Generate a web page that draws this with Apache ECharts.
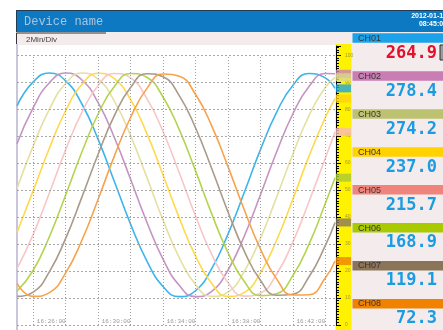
<!DOCTYPE html>
<html><head><meta charset="utf-8">
<script src="https://cdn.jsdelivr.net/npm/echarts@6/dist/echarts.min.js"></script>
<style>html,body{margin:0;padding:0;background:#fff}#c{width:443px;height:330px}</style>
</head><body><div id="c"></div>
<script>
// minutes after 16:00
const minutes = [23,24,25,26,27,28,29,30,31,32,33,34,35,36,37,38,39,40,41,42,42.6];
const timeTicks = [26,30,34,38,42];
const gridMinutes = [24,26,28,30,32,34,36,38,40,42];
const gridValues = [0,10,20,30,40,50,60,70,80,90,100];
const channelNames = ['CH01','CH02','CH03','CH04','CH05','CH06','CH07','CH08'];
const currentValues = ['264.9','278.4','274.2','237.0','215.7','168.9','119.1','72.3'];
const ch01 = [81.2,90.1,93.4,90.5,81.9,68.8,53.2,37.4,23.8,14.3,10.5,12.7,20.9,33.6,49.0,64.9,78.8,88.8,93.2,91.6,87.7];
const ch02 = [67.2,80.6,89.8,93.4,90.8,82.4,69.5,54.0,38.2,24.4,14.7,10.5,12.5,20.3,32.8,48.2,64.1,78.2,88.4,93.2,93.1];
const ch03 = [50.6,66.4,80.0,89.5,93.4,91.1,83.0,70.2,54.8,38.9,25.0,15.0,10.6,12.2,19.8,32.1,47.4,63.3,77.6,88.0,91.8];
const ch04 = [34.3,49.8,65.6,79.4,89.1,93.3,91.3,83.5,71.0,55.6,39.7,25.6,15.4,10.6,12.0,19.3,31.4,46.6,62.6,76.9,83.9];
const ch05 = [20.9,33.6,49.0,64.9,78.8,88.8,93.2,91.6,84.0,71.7,56.4,40.5,26.2,15.8,10.7,11.8,18.8,30.7,45.8,61.8,71.5];
const ch06 = [12.5,20.3,32.8,48.2,64.1,78.2,88.4,93.2,91.8,84.5,72.4,57.2,41.2,26.9,16.2,10.9,11.6,18.3,30.0,45.0,54.6];
const ch07 = [10.6,12.2,19.8,32.1,47.4,63.3,77.6,88.0,93.1,92.0,85.0,73.1,58.0,42.0,27.5,16.6,11.0,11.4,17.9,29.4,38.0];
const ch08 = [15.4,10.6,12.0,19.3,31.4,46.6,62.6,76.9,87.6,93.0,92.2,85.5,73.8,58.8,42.8,28.2,17.1,11.1,11.2,17.4,23.7];
const channelData = [ch01,ch02,ch03,ch04,ch05,ch06,ch07,ch08];
const lineColors = ['#3db5ec','#c594c2','#e5e0a2','#ffd94c','#f8c6c6','#b5d44e','#a99a8a','#f8a24c'];
const headerColors = ['#1ca2e8','#c97db5','#bcc270','#ffd200','#f0847c','#a9c900','#8a7558','#f08200'];
const markerColors = ['#1ca2e8','#c584b6','#d9d78c','#ffcf10','#f7b9b9','#a7c832','#8a7660','#f08200'];

const chart = echarts.init(document.getElementById('c'), null, {renderer:'canvas'});

const series = [];
series.push({
  type:'line', xAxisIndex:0, yAxisIndex:0, data:[], silent:true, z:1,
  markLine:{ silent:true, symbol:'none', animation:false, label:{show:false},
    data: gridValues.map(v => ({yAxis:v, lineStyle:{color:'#a8a8a8', type:[2,2], width:1}}))
      .concat(gridMinutes.map(m => [{coord:[m,0]},{coord:[m,100]}]).map(p => { p[0].lineStyle={color:'#a0a0a0',type:[1,2],width:1}; return p; }))
  }
});
channelData.forEach((d,i) => {
  series.push({
    type:'line', name:channelNames[i], xAxisIndex:0, yAxisIndex:0,
    data: minutes.map((m,j) => [m, d[j]]),
    smooth:0.5, showSymbol:false, symbol:'none', animation:false,
    lineStyle:{color:lineColors[i], width:1.6}, z:3
  });
});
channelData.forEach((d,i) => {
  series.push({
    type:'scatter', xAxisIndex:1, yAxisIndex:1, animation:false,
    data:[[0.5, d[d.length-1]]], symbol:'rect', symbolSize:[15,8],
    itemStyle:{color:markerColors[i]}, z:5
  });
});

const graphics = [
  {type:'rect', z:-5, shape:{x:16,y:32,width:427,height:298}, style:{fill:'#f4ecec'}},
  {type:'rect', z:-5, shape:{x:16,y:10,width:427,height:22}, style:{fill:'#0c79c2'}},
  {type:'polyline', z:-4, shape:{points:[[16.5,32],[16.5,10.5],[443,10.5]]}, style:{stroke:'#243a50', lineWidth:1, fill:null}},
  {type:'text', z:10, x:24, y:21.5, style:{text:'Device name', font:'12px "Liberation Mono"', fill:'#aac4df', verticalAlign:'middle'}},
  {type:'text', z:10, x:447, y:16.5, style:{text:'2012-01-17', font:'bold 7px "Liberation Sans"', fill:'#ffffff', align:'right', verticalAlign:'middle'}},
  {type:'text', z:10, x:447, y:24.5, style:{text:'08:45:00', font:'bold 7px "Liberation Sans"', fill:'#ffffff', align:'right', verticalAlign:'middle'}},
  {type:'polyline', z:-4, shape:{points:[[16.5,44],[16.5,33],[106,33]]}, style:{stroke:'#333', lineWidth:1, fill:null}},
  {type:'text', z:10, x:26, y:39.5, style:{text:'2Min/Div', font:'8px "Liberation Sans"', fill:'#444', verticalAlign:'middle'}},
  {type:'rect', z:-4, shape:{x:17,y:45,width:318,height:285}, style:{fill:'#ffffff'}},
  {type:'rect', z:-3, shape:{x:16,y:44,width:2,height:286}, style:{fill:'#c9c6dc'}},
  {type:'rect', z:-3, shape:{x:336,y:44,width:15.5,height:286}, style:{fill:'#fff200'}},
  {type:'rect', z:10, shape:{x:440,y:45,width:5,height:15}, style:{fill:'#9a9a9a', stroke:'#333', lineWidth:1}}
];
channelNames.forEach((n,i) => {
  const top = 33.3 + i*37.95;
  graphics.push({type:'rect', z:-2, shape:{x:352.5,y:top,width:91,height:9.5}, style:{fill:headerColors[i]}});
  graphics.push({type:'text', z:10, x:358, y:top+5, style:{text:n, font:'9px "Liberation Sans"', fill:'#3a3230', verticalAlign:'middle'}});
  graphics.push({type:'text', z:10, x:437, y:top+20, style:{text:currentValues[i], font:'bold 17px "DejaVu Sans Mono"', fill: i===0 ? '#e4102c' : '#1b9ce2', align:'right', verticalAlign:'middle'}});
});

chart.setOption({
  animation:false,
  backgroundColor:'#ffffff',
  grid:[
    {left:17, right:108, top:46, bottom:5},
    {left:336, width:15, top:46, bottom:5}
  ],
  xAxis:[
    {type:'value', gridIndex:0, min:23, max:42.6, splitLine:{show:false}, axisLine:{show:false},
     axisTick:{show:false, customValues:timeTicks},
     axisLabel:{customValues:timeTicks, inside:true, margin:1, align:'right', fontSize:6, color:'#9a9a9a',
       fontFamily:'Liberation Mono', formatter: v => '16:' + String(v).padStart(2,'0') + ':00'}},
    {type:'value', gridIndex:1, min:0, max:1, show:false}
  ],
  yAxis:[
    {type:'value', gridIndex:0, min:0, max:103.4, show:false},
    {type:'value', gridIndex:1, min:0, max:103.4, interval:10, position:'left',
     axisLine:{show:true, lineStyle:{color:'#000', width:1}},
     axisTick:{show:true, inside:true, length:5, lineStyle:{color:'#000'}},
     minorTick:{show:true, splitNumber:10, length:3, lineStyle:{color:'#000'}},
     splitLine:{show:false},
     axisLabel:{inside:true, margin:9, fontSize:5, color:'#a8952a', formatter: v => (v % 10 === 0 ? String(v) : '')}}
  ],
  graphic: graphics,
  series: series
});
</script>
</body></html>
